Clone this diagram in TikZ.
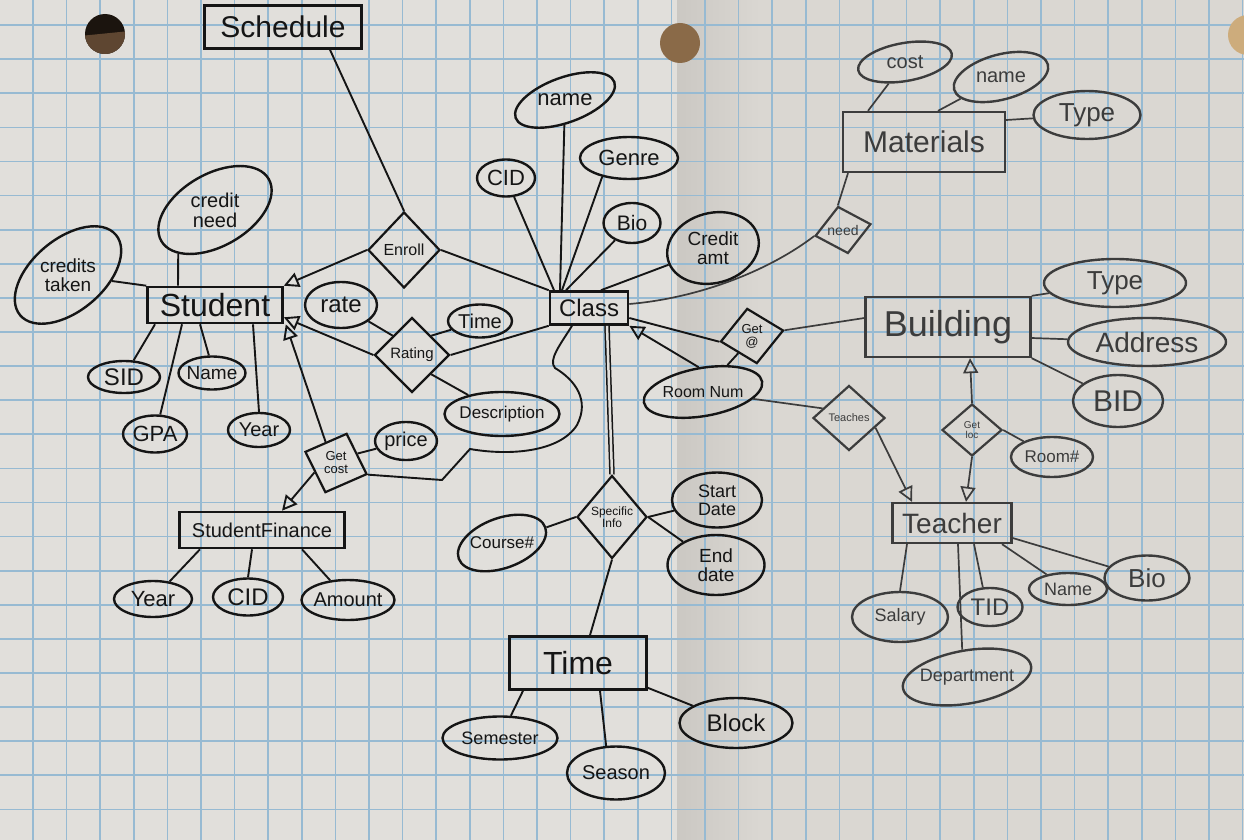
\documentclass[tikz,border=0pt]{standalone}
\usepackage{fontspec}
\setmainfont{Liberation Sans}
\usetikzlibrary{shapes.geometric,arrows.meta,calc}
\definecolor{paper}{HTML}{E1DFDB}
\definecolor{paperR}{HTML}{DAD7D2}
\definecolor{fold}{HTML}{CBC8C3}
\definecolor{gridc}{HTML}{97BAD2}
\definecolor{inkc}{HTML}{151515}
\definecolor{inkr}{HTML}{3C3C3C}
\newcommand\fs[1]{\fontsize{#1}{#1}\selectfont}
\begin{document}
\begin{tikzpicture}[x=1pt,y=-1pt,
  ent/.style={rectangle, draw=inkc, line width=2.6pt, inner sep=0pt, text=inkc},
  attr/.style={ellipse, draw=inkc, line width=2.4pt, inner sep=0pt},
  rel/.style={diamond, draw=inkc, line width=2.2pt, inner sep=0pt},
  sz/.style 2 args={minimum width=#1pt, minimum height=#2pt},
  tx/.style 2 args={label={[font=\fs{#1}, align=center, text=inkc, inner sep=0pt]center:#2}},
  link/.style={draw=inkc, line width=1.9pt},
  isa/.style={-{Triangle[open, length=15pt, width=15pt]}},
  gridline/.style={draw=gridc, line width=1.7pt}]
\useasboundingbox (0,0) rectangle (1244,840);

% graph paper with the fold shadow
\fill[paper] (0,0) rectangle (1244,840);
\fill[paperR] (677,0) rectangle (1244,840);
\shade[left color=fold, right color=paperR] (677,0) rectangle (760,840);
\foreach \i in {0,...,36} \draw[gridline] ({33+33.6*\i},0) -- ++(0,840);
\foreach \j in {0,...,25} \draw[gridline] (0,{-9+34.1*\j}) -- ++(1244,0);

% punched holes
\begin{scope}
  \clip (0,0) rectangle (1244,840);
  \fill[fill={rgb,255:red,27;green,20;blue,14}] (105,34) circle (20);
  \begin{scope}
    \clip (105,34) circle (20);
    \fill[fill={rgb,255:red,94;green,70;blue,49}] (80,36) -- (130,31) -- (130,60) -- (80,60) -- cycle;
  \end{scope}
  \fill[fill={rgb,255:red,138;green,106;blue,72}] (680,43) circle (20);
  \fill[fill={rgb,255:red,205;green,172;blue,124}] (1248,35) circle (20);
\end{scope}

% ---------- left and centre: pen ----------
% entities
\node[ent, sz={157}{43}, font=\fs{30}] (schedule) at (283,27) {Schedule};
\node[ent, sz={135}{36}, font=\fs{32}] (student) at (215,305) {Student};
\node[ent, sz={165}{36}, font=\fs{20}] (finance) at (262,530) {StudentFinance};
\node[ent, sz={78}{33}, font=\fs{24}] (class) at (589,308) {Class};
\node[ent, sz={137}{53}, font=\fs{32}] (time) at (578,663) {Time};

% relationships
\node[rel, sz={72}{76}, tx={16}{Enroll}] (enroll) at (404,250) {};
\node[rel, sz={75}{75}, tx={15}{Rating}] (rating) at (412,355) {};
\node[rel, sz={66}{63}, rotate=-20, tx={13}{Get\\cost}] (getcost) at (336,463) {};
\node[rel, sz={70}{83}, tx={12}{Specific\\Info}] (spec) at (612,517) {};
\node[rel, sz={64}{56}, rotate=10, tx={13}{Get\\@}] (getat) at (752,336) {};

% attributes
\node[attr, sz={125}{72}, rotate=40, tx={19}{credits\\taken}] (credtaken) at (68,275) {};
\node[attr, sz={124}{72}, rotate=30, tx={20}{credit\\need}] (credneed) at (215,210) {};
\node[attr, sz={72}{32}, tx={24}{SID}] (sid) at (124,377) {};
\node[attr, sz={67}{33}, tx={19}{Name}] (sname) at (212,373) {};
\node[attr, sz={64}{37}, tx={22}{GPA}] (gpa) at (155,434) {};
\node[attr, sz={62}{34}, tx={20}{Year}] (syear) at (259,430) {};
\node[attr, sz={72}{46}, tx={24}{rate}] (rate) at (341,305) {};
\node[attr, sz={64}{33}, tx={20}{Time}] (rtime) at (480,321) {};
\node[attr, sz={115}{44}, tx={17}{Description}] (desc) at (502,414) {};
\node[attr, sz={62}{38}, tx={20}{price}] (price) at (406,441) {};
\node[attr, sz={78}{36}, tx={22}{Year}] (fyear) at (153,599) {};
\node[attr, sz={70}{37}, tx={24}{CID}] (fcid) at (248,597) {};
\node[attr, sz={93}{40}, tx={20}{Amount}] (famt) at (348,600) {};
\node[attr, sz={105}{45}, rotate=20, tx={22}{name}] (cname) at (565,100) {};
\node[attr, sz={98}{42}, tx={22}{Genre}] (genre) at (629,158) {};
\node[attr, sz={58}{37}, tx={22}{CID}] (ccid) at (506,178) {};
\node[attr, sz={57}{40}, tx={21}{Bio}] (cbio) at (632,223) {};
\node[attr, sz={93}{70}, rotate=15, tx={19}{Credit\\amt}] (camt) at (713,248) {};
\node[attr, sz={92}{50}, rotate=20, tx={17}{Course\#}] (course) at (502,543) {};
\node[attr, sz={90}{55}, tx={18}{Start\\Date}] (start) at (717,500) {};
\node[attr, sz={97}{60}, tx={19}{End\\date}] (endd) at (716,565) {};
\node[attr, sz={115}{43}, tx={18}{Semester}] (sem) at (500,738) {};
\node[attr, sz={98}{53}, tx={20}{Season}] (season) at (616,773) {};
\node[attr, sz={113}{50}, tx={24}{Block}] (block) at (736,723) {};
\node[attr, sz={120}{48}, rotate=10, tx={16}{Room Num}] (roomnum) at (703,392) {};

% connectors
\draw[link] ([xshift=47pt]schedule.south) -- (enroll.north);
\draw[link,isa] (enroll.west) -- (student.north east);
\draw[link] (enroll.east) -- (class.north west);
\draw[link] (credneed.-160) -- ([xshift=-37pt]student.north);
\draw[link] (credtaken) -- (student.north west);
\draw[link] ([xshift=-60pt]student.south) -- (sid.60);
\draw[link] ([xshift=-15pt]student.south) -- (sname.100);
\draw[link] ([xshift=-33pt]student.south) -- (gpa.75);
\draw[link] ([xshift=38pt]student.south) -- (syear.north);
\draw[link,isa] (rating.west) -- ([yshift=7pt]student.south east);
\draw[link] (rate) -- (rating.north west);
\draw[link] (rating.north east) -- (rtime);
\draw[link] (rating.east) -- (class.south west);
\draw[link] (rating.south east) -- (desc);
\draw[link,isa] (getcost.north west) -- ([xshift=2pt]student.south east);
\draw[link] (getcost.north east) -- (price);
\draw[link,isa] (getcost.south west) -- ([xshift=20pt]finance.north);
\draw[link] (getcost.east) -- (442,480) -- (470,449)
  .. controls (510,456) and (560,452) .. (577,425)
  .. controls (590,400) and (575,380) .. (555,368)
  .. controls (548,360) and (560,345) .. ([xshift=-17pt]class.south);
\draw[link] ([xshift=-62pt]finance.south) -- (fyear);
\draw[link] ([xshift=-10pt]finance.south) -- (fcid.north);
\draw[link] ([xshift=40pt]finance.south) -- (famt);
\draw[link] (ccid) -- ([xshift=-35pt]class.north);
\draw[link] (cname) -- ([xshift=-29pt]class.north);
\draw[link] (genre.-145) -- ([xshift=-27pt]class.north);
\draw[link] (cbio) -- ([xshift=-23pt]class.north);
\draw[link] (camt) -- ([xshift=12pt]class.north);
\draw[link] ([yshift=-10pt]class.east) -- (getat.west);
\draw[link,isa] (roomnum.north) -- (class.south east);
\draw[draw=inkc, line width=1.5pt, double=paper, double distance=2.5pt]
  ([xshift=18pt]class.south) -- (spec.north);
\draw[link] (spec.west) -- (course);
\draw[link] (spec.east) -- (start);
\draw[link] (spec.east) -- (endd);
\draw[link] (spec.south) -- ([xshift=12pt]time.north);
\draw[link] ([xshift=-55pt]time.south) -- (sem);
\draw[link] ([xshift=22pt]time.south) -- (season.110);
\draw[link] ([yshift=3pt]time.south east) -- (block);
\draw[link] (getat.south west) -- (roomnum);

% ---------- right side: pencil ----------
\begin{scope}
\colorlet{inkc}{inkr}
\tikzset{link/.append style={line width=1.7pt}}
\node[ent, sz={162}{60}, font=\fs{30}, line width=2.3pt] (materials) at (924,142) {Materials};
\node[ent, sz={165}{60}, font=\fs{36}, line width=2.3pt] (building) at (948,327) {Building};
\node[ent, sz={119}{40}, font=\fs{28}, line width=2.3pt] (teacher) at (952,523) {Teacher};

\node[rel, sz={57}{48}, rotate=12, tx={14}{need}] (need) at (843,230) {};
\node[rel, sz={72}{65}, tx={11}{Teaches}] (teaches) at (849,418) {};
\node[rel, sz={60}{52}, tx={10}{Get\\loc}] (getloc) at (972,430) {};

\node[attr, sz={95}{38}, rotate=10, tx={20}{cost}] (mcost) at (905,62) {};
\node[attr, sz={97}{45}, rotate=15, tx={20}{name}] (mname) at (1001,77) {};
\node[attr, sz={107}{48}, tx={26}{Type}] (mtype) at (1087,115) {};
\node[attr, sz={142}{48}, tx={26}{Type}] (btype) at (1115,283) {};
\node[attr, sz={158}{48}, tx={28}{Address}] (address) at (1147,342) {};
\node[attr, sz={90}{52}, tx={30}{BID}] (bid) at (1118,401) {};
\node[attr, sz={82}{40}, tx={17}{Room\#}] (roomno) at (1052,457) {};
\node[attr, sz={96}{50}, tx={18}{Salary}] (salary) at (900,617) {};
\node[attr, sz={65}{38}, tx={24}{TID}] (tid) at (990,607) {};
\node[attr, sz={78}{32}, tx={18}{Name}] (tname) at (1068,589) {};
\node[attr, sz={85}{45}, tx={26}{Bio}] (tbio) at (1147,578) {};
\node[attr, sz={130}{53}, rotate=10, tx={18}{Department}] (dept) at (967,677) {};

\draw[link] ([yshift=4pt]class.east) .. controls (700,298) and (770,270) .. (need.west);
\draw[link] (need.north) -- ([xshift=-76pt]materials.south);
\draw[link] (getat.east) -- ([yshift=9pt]building.west);
\draw[link] (roomnum) -- (teaches.160);
\draw[link,isa] (teaches.-20) -- ([xshift=-40pt]teacher.north);
\draw[link,isa] (getloc.north) -- ([xshift=22pt]building.south);
\draw[link,isa] (getloc.south) -- ([xshift=14pt]teacher.north);
\draw[link] (getloc.east) -- (roomno);
\draw[link] (building.north east) -- (btype);
\draw[link] ([yshift=-11pt]building.east) -- (address);
\draw[link] (building.south east) -- (bid);
\draw[link] ([xshift=-56pt]materials.north) -- (mcost);
\draw[link] ([xshift=14pt]materials.north) -- (mname);
\draw[link] ([yshift=22pt]materials.east) -- (mtype);
\draw[link] ([xshift=-45pt]teacher.south) -- (salary.north);
\draw[link] ([xshift=6pt]teacher.south) -- (dept.north);
\draw[link] ([xshift=22pt]teacher.south) -- (tid.110);
\draw[link] ([xshift=50pt]teacher.south) -- (tname);
\draw[link] ([yshift=-15pt]teacher.east) -- (tbio);
\end{scope}
\end{tikzpicture}
\end{document}
